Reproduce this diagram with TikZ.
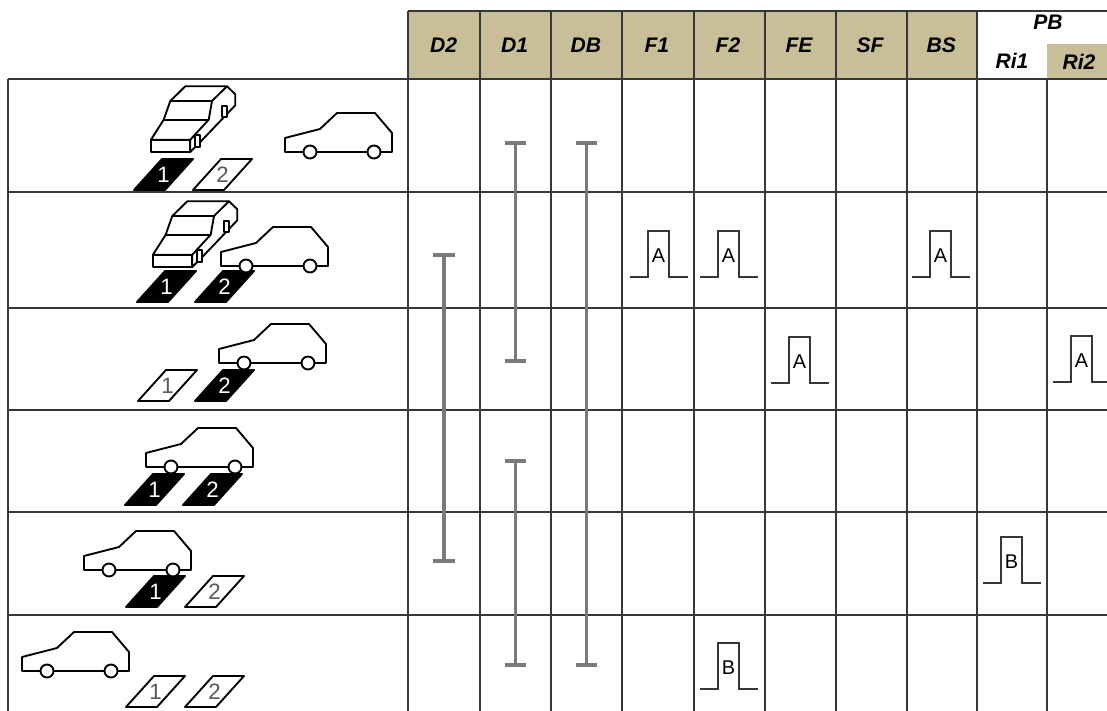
\documentclass[tikz,border=0pt]{standalone}
\usepackage{fontspec}
\setmainfont{Liberation Sans}
\usetikzlibrary{arrows.meta}

\definecolor{headtan}{RGB}{200,191,153}
\definecolor{spangray}{RGB}{122,122,122}
\definecolor{linegray}{RGB}{55,55,55}

\tikzset{
  tabline/.style={draw=linegray, line width=1.4pt},
  head/.style={font=\fontsize{18}{20}\selectfont\bfseries\itshape, inner sep=0pt},
  span/.style={draw=spangray, line width=3.2pt, {Bar[width=18pt]}-{Bar[width=18pt]}},
  icon/.style={line width=1.6pt, line join=round},
  slotnum/.style={font=\fontsize{19}{20}\selectfont, inner sep=0pt},
  pulseline/.style={draw=linegray, line width=1.2pt},
  % side view of a hatchback, origin at rear bottom
  pics/car/.style={code={
    \draw[icon, fill=white] (0,0) -- (0,-14) -- (35,-23) -- (52,-39) -- (90,-39)
      -- (107,-19) -- (107,0) -- cycle;
    \draw[icon, fill=white] (25,0) circle (6.5) (89,0) circle (6.5);
  }},
  % car seen from the front, origin at bumper bottom left
  pics/sedan/.style={code={
    \draw[icon, fill=white] (0,-12.3) -- (12.7,-32.3) -- (19.3,-51) -- (34.3,-65.7)
      -- (76,-65.7) -- (84.3,-57.7) -- (84.3,-46.7) -- (49.3,-10) -- (44.3,-5)
      -- (39.3,0) -- (39.3,-12.3) -- cycle;
    \draw[icon] (39.3,-12.3) -- (57.7,-32.3) -- (61,-51) -- (76,-65.7);
    \draw[icon] (12.7,-32.3) -- (57.7,-32.3) (19.3,-51) -- (61,-51);
    \draw[icon, fill=white] (0,0) rectangle (39.3,-12.3);
    \draw[icon, fill=white] (44.3,-5) rectangle (49.3,-16.7);
    \draw[icon, fill=white] (71,-35) rectangle (76,-45.7);
  }},
  % occupied and free parking spaces
  pics/taken/.style={code={
    \draw[icon, fill=black] (0,0) -- (31,0) -- (59,-31) -- (28,-31) -- cycle;
    \node[slotnum, text=white] (-num) at (29.5,-15.5) {#1};
  }},
  pics/free/.style={code={
    \draw[icon, fill=white] (0,0) -- (31,0) -- (59,-31) -- (28,-31) -- cycle;
    \node[slotnum, text=black!65] (-num) at (29.5,-15.5) {#1};
  }},
  % signal pulse, origin at left end of base line
  pics/pulse/.style={code={
    \draw[pulseline] (0,0) -- (18,0) -- (18,-46) -- (39,-46) -- (39,0) -- (58,0);
    \node[font=\fontsize{17}{18}\selectfont, inner sep=0pt] (-lab) at (28.5,-21) {#1};
  }}
}

\begin{document}
\begin{tikzpicture}[x=0.03cm, y=-0.03cm]
  \useasboundingbox (0,0) rectangle (1107,711);

  % header cells
  \fill[headtan] (408,11) rectangle (977,79);
  \fill[headtan] (1047,44) rectangle (1107,79);
  \foreach \lab [count=\i] in {D2,D1,DB,F1,F2,FE,SF,BS}
    \node[head] (h\lab) at ({408+71.1*(\i-0.5)},45) {\lab};
  \node[head] (hPB) at (1048,22) {PB};
  \node[head] (hRi1) at (1012,61) {Ri1};
  \node[head] (hRi2) at (1079,62) {Ri2};

  % table rules
  \draw[tabline] (408,11) -- (1107,11);
  \foreach \y in {79,192,308,410,512,615}
    \draw[tabline] (8,\y) -- (1107,\y);
  \draw[tabline] (8,79) -- (8,711);
  \foreach \x in {408,480,551,622,694,765,836,907,977}
    \draw[tabline] (\x,11) -- (\x,711);
  \draw[tabline] (1047,79) -- (1047,711);

  % parking spaces
  \pic (p11) at (134,190) {taken=1};
  \pic (p12) at (193,190) {free=2};
  \pic (p21) at (137,302) {taken=1};
  \pic (p22) at (195,302) {taken=2};
  \pic (p31) at (138,401) {free=1};
  \pic (p32) at (195,401) {taken=2};
  \pic (p41) at (125,505) {taken=1};
  \pic (p42) at (183,505) {taken=2};
  \pic (p51) at (126,607) {taken=1};
  \pic (p52) at (185,607) {free=2};
  \pic (p61) at (126,707) {free=1};
  \pic (p62) at (185,707) {free=2};

  % cars
  \pic (s1) at (151,152) {sedan};
  \pic (c1) at (285,152) {car};
  \pic (s2) at (153,267) {sedan};
  \pic (c2) at (221,266) {car};
  \pic (c3) at (219,363) {car};
  \pic (c4) at (146,467) {car};
  \pic (c5) at (84,570) {car};
  \pic (c6) at (22,671) {car};

  % active ranges
  \draw[span] (444,253) -- (444,563);
  \draw[span] (515.5,141) -- (515.5,363);
  \draw[span] (515.5,459) -- (515.5,667);
  \draw[span] (586.5,141) -- (586.5,667);

  % pulses
  \pic (f1) at (630,277) {pulse=A};
  \pic (f2) at (700,277) {pulse=A};
  \pic (bs) at (912,277) {pulse=A};
  \pic (fe) at (771,383) {pulse=A};
  \pic (ri2) at (1053,382) {pulse=A};
  \pic (ri1) at (983,583) {pulse=B};
  \pic (f2b) at (700,689) {pulse=B};
\end{tikzpicture}
\end{document}
